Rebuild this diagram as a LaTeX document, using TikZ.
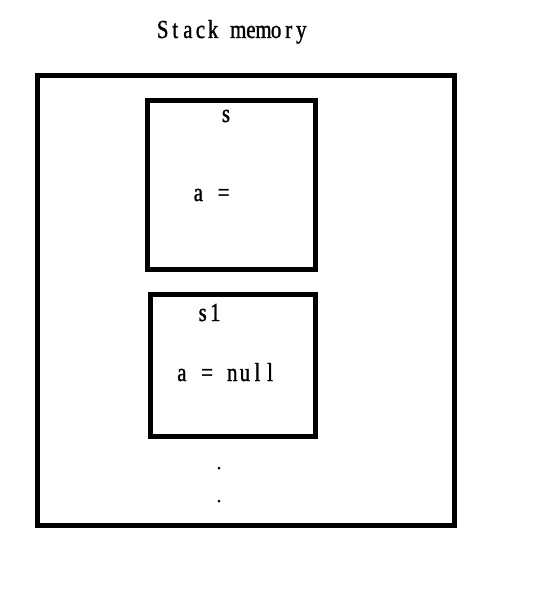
\documentclass[tikz,border=0pt]{standalone}
\usepackage{fontspec}
\setmainfont{Liberation Serif}
\newfontfamily\simfont[FakeStretch=0.8,FakeBold=1.2]{Liberation Serif}
\newlength{\cw}
\setlength{\cw}{12.6pt}
\def\monoloop#1{\ifx#1\relax\else\makebox[\cw]{#1}\expandafter\monoloop\fi}
\newcommand{\mono}[1]{\monoloop#1\relax}
\begin{document}
\begin{tikzpicture}[x=1pt,y=-1pt,
  frame/.style={draw=black,line width=5pt,line join=miter},
  lbl/.style={inner sep=0pt,anchor=base,font=\simfont\fontsize{26}{30}\selectfont},
  dotmark/.style={circle,fill=black,inner sep=0pt,minimum size=3pt}]
\useasboundingbox (0,0) rectangle (551,604);
\node[frame,minimum width=417pt,minimum height=449pt,inner sep=0pt] (stack) at (246,300.5) {};
\node[frame,minimum width=167.5pt,minimum height=168pt,inner sep=0pt] (s) at (231.25,185) {};
\node[frame,minimum width=165pt,minimum height=142.7pt,inner sep=0pt] (s1) at (232.5,365.35) {};
\node[lbl] (title) at (232,38) {\mono{Stack~memory}};
\node[lbl] (sname) at (226,122) {\mono{s}};
\node[lbl] (sa) at (211,201) {\mono{a~=}};
\node[lbl] (s1name) at (209,321) {\mono{s1}};
\node[lbl] (s1a) at (226,381) {\mono{a~=~null}};
\node[dotmark] (d1) at (219,468) {};
\node[dotmark] (d2) at (219,501) {};
\end{tikzpicture}
\end{document}
